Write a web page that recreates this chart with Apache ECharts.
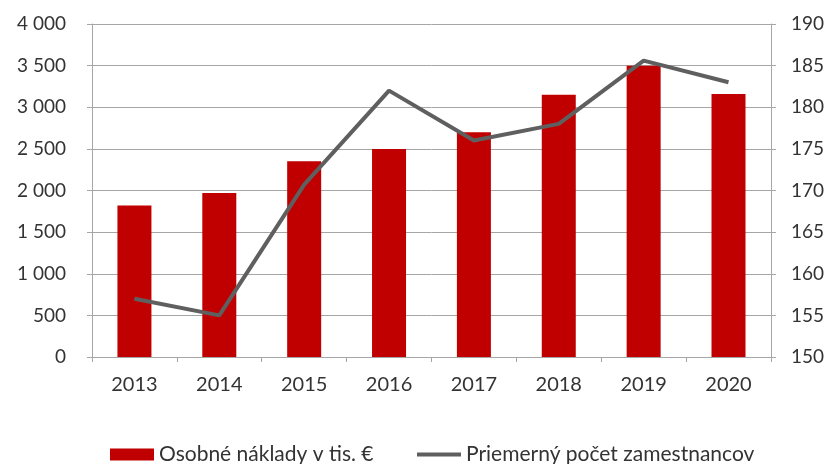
<!DOCTYPE html>
<html>
<head>
<meta charset="utf-8">
<script src="https://cdn.jsdelivr.net/npm/echarts@6/dist/echarts.min.js"></script>
<style>
  html, body { margin: 0; padding: 0; background: #fff; }
  #chart { width: 827px; height: 464px; }
</style>
</head>
<body>
<div id="chart"></div>
<script>
const years = ['2013', '2014', '2015', '2016', '2017', '2018', '2019', '2020'];
const costs = [1820, 1970, 2350, 2500, 2700, 3150, 3500, 3160];
const employees = [157, 155, 170.7, 182, 176, 178, 185.6, 183];
const costName = 'Osobné náklady v tis. €';
const empName = 'Priemerný počet zamestnancov';

const axisGray = '#a6a6a6';
const textColor = '#333333';
const lineGray = '#5f5f5f';
const fontFamily = 'Lato, "Open Sans", sans-serif';

function formatThousands(value) {
  return String(value).replace(/\B(?=(\d{3})+(?!\d))/g, ' ');
}

const legendBase = {
  top: 439,
  itemWidth: 44,
  itemHeight: 12,
  textStyle: { color: textColor, fontSize: 21, fontFamily },
};

const chart = echarts.init(document.getElementById('chart'), null, { renderer: 'canvas' });

chart.setOption({
  backgroundColor: '#fff',
  animation: false,
  textStyle: { fontFamily },
  grid: { left: 92, right: 56, top: 24, bottom: 107, containLabel: false },
  legend: [
    { ...legendBase, left: 105, data: [{ name: costName, icon: 'rect' }] },
    { ...legendBase, left: 412, data: [{ name: empName, icon: 'path://M0 0H45V4H0Z' }] },
  ],
  xAxis: {
    type: 'category',
    data: years,
    axisLine: { lineStyle: { color: axisGray, width: 1 } },
    axisTick: { show: true, length: 5, lineStyle: { color: axisGray } },
    axisLabel: { color: textColor, fontSize: 20, margin: 18, fontFamily },
  },
  yAxis: [
    {
      type: 'value',
      min: 0,
      max: 4000,
      interval: 500,
      axisLine: { show: true, lineStyle: { color: axisGray } },
      axisTick: { show: true, length: 5, lineStyle: { color: axisGray } },
      axisLabel: { color: textColor, fontSize: 19, margin: 26, fontFamily, formatter: formatThousands },
      splitLine: { lineStyle: { color: axisGray, width: 1 } },
    },
    {
      type: 'value',
      min: 150,
      max: 190,
      interval: 5,
      position: 'right',
      axisLine: { show: true, lineStyle: { color: axisGray } },
      axisTick: { show: true, length: 5, lineStyle: { color: axisGray } },
      axisLabel: { color: textColor, fontSize: 19, margin: 20, fontFamily },
      splitLine: { show: false },
    },
  ],
  series: [
    {
      name: costName,
      type: 'bar',
      data: costs,
      barWidth: 34,
      itemStyle: { color: '#c00000' },
    },
    {
      name: empName,
      type: 'line',
      yAxisIndex: 1,
      data: employees,
      symbol: 'none',
      lineStyle: { color: lineGray, width: 4 },
      itemStyle: { color: lineGray },
    },
  ],
});
</script>
</body>
</html>
